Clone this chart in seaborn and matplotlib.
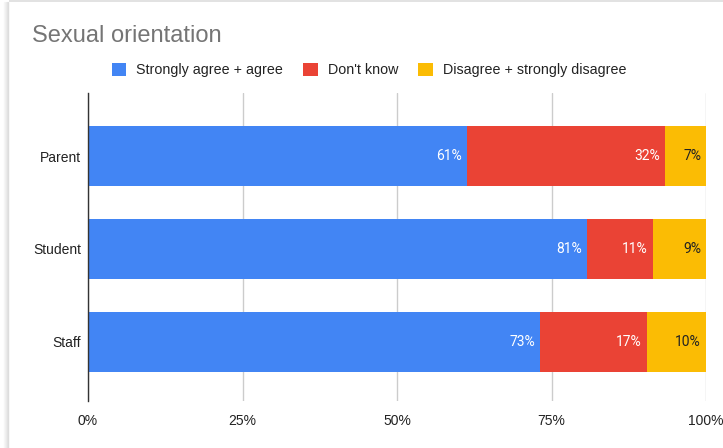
import matplotlib
matplotlib.use("Agg")
import matplotlib.pyplot as plt
from matplotlib.patches import Patch
from matplotlib.lines import Line2D
import seaborn as sns
import pandas as pd
import numpy as np

groups = ["Parent", "Student", "Staff"]
series = ["Strongly agree + agree", "Don't know", "Disagree + strongly disagree"]
agree = [61.3, 80.8, 73.2]
dont_know = [32.1, 10.6, 17.2]
disagree = [6.6, 8.6, 9.6]
x_ticks = [0, 25, 50, 75, 100]
x_tick_labels = ["0%", "25%", "50%", "75%", "100%"]

colors = ["#4285F4", "#EA4335", "#FBBC04"]
label_colors = ["white", "white", "#222222"]

sns.set_theme(style="white")
plt.rcParams["font.family"] = ["Liberation Sans", "DejaVu Sans"]

W, H = 723, 448
fig = plt.figure(figsize=(W / 100, H / 100), dpi=100)
fig.patch.set_facecolor("white")
fig.patch.set_edgecolor("none")
fig.patch.set_linewidth(0)

# soft card edge: shadow on the left, hairline on top
for k, a in enumerate([0.05, 0.08, 0.12, 0.18, 0.25]):
    x = (4 + k) / W
    fig.add_artist(Line2D([x, x], [0, 1 - 2 / H], transform=fig.transFigure,
                          color="#888888", alpha=a, linewidth=1))
fig.add_artist(Line2D([9 / W, 1], [1 - 1.5 / H, 1 - 1.5 / H], transform=fig.transFigure,
                      color="#dddddd", linewidth=1.2, solid_capstyle="butt"))

ax = fig.add_axes([88 / W, 1 - 401 / H, (706 - 88) / W, (401 - 93) / H])
ax.set_facecolor("none")

values = [agree, dont_know, disagree]
cum = np.cumsum(np.array(values), axis=0)

# stacked bars, drawn from the outermost segment inward
for i in reversed(range(3)):
    df = pd.DataFrame({"group": groups, "end": cum[i]})
    sns.barplot(data=df, x="end", y="group", order=groups, orient="h",
                color=colors[i], saturation=1, width=0.647, ax=ax,
                edgecolor="none", linewidth=0, zorder=3)

# value labels at the right end of each segment
for i in range(3):
    for j, g in enumerate(groups):
        ax.text(cum[i][j] - 0.8, j, f"{values[i][j]:.0f}%", ha="right", va="center",
                color=label_colors[i], fontsize=10, family=["Roboto", "DejaVu Sans"],
                zorder=5)

ax.set_xlim(0, 100)
ax.set_ylim(2.64, -0.68)
ax.set_xticks(x_ticks)
ax.set_xticklabels(x_tick_labels, fontsize=10, color="#222222")
ax.tick_params(axis="y", labelsize=10, labelcolor="#222222", length=0, pad=5)
ax.tick_params(axis="x", length=0, pad=9)
ax.set_xlabel("")
ax.set_ylabel("")
ax.xaxis.grid(True, color="#cccccc", linewidth=1)
ax.set_axisbelow(True)
for s in ["top", "right", "bottom"]:
    ax.spines[s].set_visible(False)
ax.spines["left"].set_color("#333333")
ax.spines["left"].set_linewidth(1)
ax.spines["left"].set_zorder(6)

fig.text(32 / W, 1 - 36 / H, "Sexual orientation", fontsize=17, color="#757575",
         ha="left", va="center")

handles = [Patch(facecolor=c, edgecolor="none") for c in colors]
fig.legend(handles, series, loc="center", bbox_to_anchor=(369 / W, 1 - 70 / H),
           ncol=3, frameon=False, fontsize=10.3, handlelength=1.0, handleheight=1.0,
           handletextpad=0.72, columnspacing=1.4, labelcolor="#222222")

fig.savefig("out.png", dpi=100, facecolor="white", edgecolor="none")
